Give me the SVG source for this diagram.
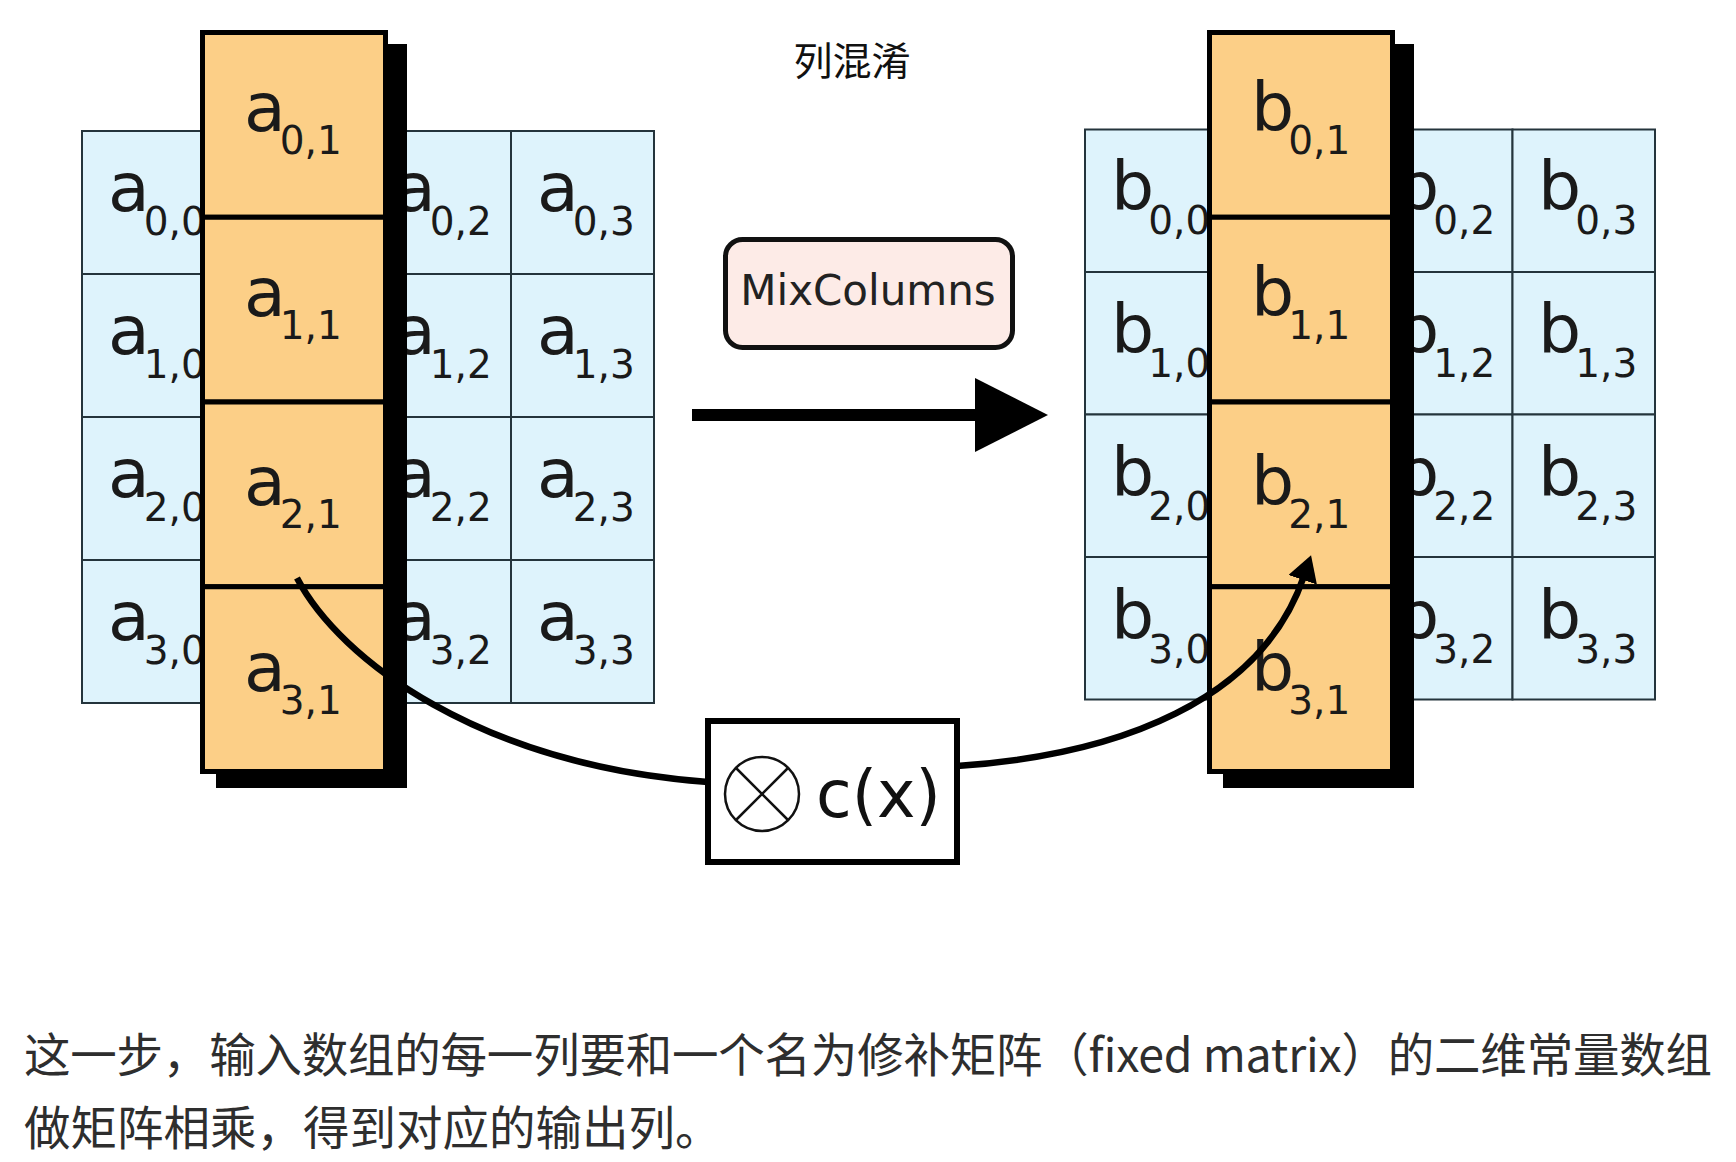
<svg xmlns="http://www.w3.org/2000/svg" width="1736" height="1162" viewBox="0 0 1736 1162">
<style>
.bg{fill:#ffffff}
.cell{fill:#def3fc;stroke:#24343c;stroke-width:2}
.ocell{fill:#fccf87;stroke:#000;stroke-width:5}
.shadow{fill:#000}
.lbl{font-family:"DejaVu Sans","Liberation Sans",sans-serif;font-size:68px;fill:#1a1a1a}
.sub{font-size:39px}
.cap{font-family:"Noto Sans CJK SC","Noto Sans",sans-serif;font-size:46.5px;fill:#2e2e2e}
.conn{fill:none;stroke:#000;stroke-width:6.5}
</style>
<defs>
<marker id="head" viewBox="0 0 26 30" refX="4" refY="15" markerWidth="26" markerHeight="30" markerUnits="userSpaceOnUse" orient="auto"><path d="M0,0 L26,15 L0,30 z" fill="#000"/></marker>
</defs>
<rect class="bg" x="0" y="0" width="1736" height="1162"/>
<g id="title"><text x="852" y="75" text-anchor="middle" style="font-family:'Noto Sans CJK SC',sans-serif;font-size:39px;fill:#111">列混淆</text></g>

<g id="state-a">
<g id="a00"><rect class="cell" x="82" y="131" width="143" height="143"/><text class="lbl" x="108" y="211">a<tspan class="sub" dx="-6" dy="24">0,0</tspan></text></g>
<g id="a10"><rect class="cell" x="82" y="274" width="143" height="143"/><text class="lbl" x="108" y="354">a<tspan class="sub" dx="-6" dy="24">1,0</tspan></text></g>
<g id="a20"><rect class="cell" x="82" y="417" width="143" height="143"/><text class="lbl" x="108" y="497">a<tspan class="sub" dx="-6" dy="24">2,0</tspan></text></g>
<g id="a30"><rect class="cell" x="82" y="560" width="143" height="143"/><text class="lbl" x="108" y="640">a<tspan class="sub" dx="-6" dy="24">3,0</tspan></text></g>
<rect class="cell" x="225" y="131" width="143" height="572"/>
<g id="a02"><rect class="cell" x="368" y="131" width="143" height="143"/><text class="lbl" x="394" y="211">a<tspan class="sub" dx="-6" dy="24">0,2</tspan></text></g>
<g id="a12"><rect class="cell" x="368" y="274" width="143" height="143"/><text class="lbl" x="394" y="354">a<tspan class="sub" dx="-6" dy="24">1,2</tspan></text></g>
<g id="a22"><rect class="cell" x="368" y="417" width="143" height="143"/><text class="lbl" x="394" y="497">a<tspan class="sub" dx="-6" dy="24">2,2</tspan></text></g>
<g id="a32"><rect class="cell" x="368" y="560" width="143" height="143"/><text class="lbl" x="394" y="640">a<tspan class="sub" dx="-6" dy="24">3,2</tspan></text></g>
<g id="a03"><rect class="cell" x="511" y="131" width="143" height="143"/><text class="lbl" x="537" y="211">a<tspan class="sub" dx="-6" dy="24">0,3</tspan></text></g>
<g id="a13"><rect class="cell" x="511" y="274" width="143" height="143"/><text class="lbl" x="537" y="354">a<tspan class="sub" dx="-6" dy="24">1,3</tspan></text></g>
<g id="a23"><rect class="cell" x="511" y="417" width="143" height="143"/><text class="lbl" x="537" y="497">a<tspan class="sub" dx="-6" dy="24">2,3</tspan></text></g>
<g id="a33"><rect class="cell" x="511" y="560" width="143" height="143"/><text class="lbl" x="537" y="640">a<tspan class="sub" dx="-6" dy="24">3,3</tspan></text></g>
<rect class="shadow" x="216" y="44" width="191" height="744"/>
<g id="a01"><rect class="ocell" x="202.5" y="32.5" width="183" height="184.75"/><text class="lbl" x="244" y="131">a<tspan class="sub" dx="-6" dy="23">0,1</tspan></text></g>
<g id="a11"><rect class="ocell" x="202.5" y="217.25" width="183" height="184.75"/><text class="lbl" x="244" y="316">a<tspan class="sub" dx="-6" dy="23">1,1</tspan></text></g>
<g id="a21"><rect class="ocell" x="202.5" y="402" width="183" height="184.75"/><text class="lbl" x="244" y="505">a<tspan class="sub" dx="-6" dy="23">2,1</tspan></text></g>
<g id="a31"><rect class="ocell" x="202.5" y="586.75" width="183" height="184.75"/><text class="lbl" x="244" y="691">a<tspan class="sub" dx="-6" dy="23">3,1</tspan></text></g>
</g>

<g id="state-b">
<g id="b00"><rect class="cell" x="1085" y="129.5" width="142.5" height="142.5"/><text class="lbl" x="1111" y="210">b<tspan class="sub" dx="-6" dy="24">0,0</tspan></text></g>
<g id="b10"><rect class="cell" x="1085" y="272" width="142.5" height="142.5"/><text class="lbl" x="1111" y="353">b<tspan class="sub" dx="-6" dy="24">1,0</tspan></text></g>
<g id="b20"><rect class="cell" x="1085" y="414.5" width="142.5" height="142.5"/><text class="lbl" x="1111" y="496">b<tspan class="sub" dx="-6" dy="24">2,0</tspan></text></g>
<g id="b30"><rect class="cell" x="1085" y="557" width="142.5" height="142.5"/><text class="lbl" x="1111" y="639">b<tspan class="sub" dx="-6" dy="24">3,0</tspan></text></g>
<rect class="cell" x="1227.5" y="129.5" width="142.5" height="570"/>
<g id="b02"><rect class="cell" x="1370" y="129.5" width="142.5" height="142.5"/><text class="lbl" x="1396" y="210">b<tspan class="sub" dx="-6" dy="24">0,2</tspan></text></g>
<g id="b12"><rect class="cell" x="1370" y="272" width="142.5" height="142.5"/><text class="lbl" x="1396" y="353">b<tspan class="sub" dx="-6" dy="24">1,2</tspan></text></g>
<g id="b22"><rect class="cell" x="1370" y="414.5" width="142.5" height="142.5"/><text class="lbl" x="1396" y="496">b<tspan class="sub" dx="-6" dy="24">2,2</tspan></text></g>
<g id="b32"><rect class="cell" x="1370" y="557" width="142.5" height="142.5"/><text class="lbl" x="1396" y="639">b<tspan class="sub" dx="-6" dy="24">3,2</tspan></text></g>
<g id="b03"><rect class="cell" x="1512.5" y="129.5" width="142.5" height="142.5"/><text class="lbl" x="1538" y="210">b<tspan class="sub" dx="-6" dy="24">0,3</tspan></text></g>
<g id="b13"><rect class="cell" x="1512.5" y="272" width="142.5" height="142.5"/><text class="lbl" x="1538" y="353">b<tspan class="sub" dx="-6" dy="24">1,3</tspan></text></g>
<g id="b23"><rect class="cell" x="1512.5" y="414.5" width="142.5" height="142.5"/><text class="lbl" x="1538" y="496">b<tspan class="sub" dx="-6" dy="24">2,3</tspan></text></g>
<g id="b33"><rect class="cell" x="1512.5" y="557" width="142.5" height="142.5"/><text class="lbl" x="1538" y="639">b<tspan class="sub" dx="-6" dy="24">3,3</tspan></text></g>
<rect class="shadow" x="1223" y="44" width="191" height="744"/>
<g id="b01"><rect class="ocell" x="1209.5" y="32.5" width="183" height="184.75"/><text class="lbl" x="1251" y="131">b<tspan class="sub" dx="-6" dy="23">0,1</tspan></text></g>
<g id="b11"><rect class="ocell" x="1209.5" y="217.25" width="183" height="184.75"/><text class="lbl" x="1251" y="316">b<tspan class="sub" dx="-6" dy="23">1,1</tspan></text></g>
<g id="b21"><rect class="ocell" x="1209.5" y="402" width="183" height="184.75"/><text class="lbl" x="1251" y="505">b<tspan class="sub" dx="-6" dy="23">2,1</tspan></text></g>
<g id="b31"><rect class="ocell" x="1209.5" y="586.75" width="183" height="184.75"/><text class="lbl" x="1251" y="691">b<tspan class="sub" dx="-6" dy="23">3,1</tspan></text></g>
</g>

<g id="mixcolumns">
<rect x="725.5" y="239.5" width="287" height="108" rx="17" fill="#fdebe7" stroke="#111" stroke-width="5"/>
<text x="868" y="305" text-anchor="middle" style="font-family:'DejaVu Sans',sans-serif;font-size:42px;fill:#222">MixColumns</text>
</g>

<g id="cx">
<rect x="708" y="721" width="249" height="141" fill="#fff" stroke="#000" stroke-width="6"/>
<circle cx="762" cy="794" r="37" fill="none" stroke="#111" stroke-width="2.5"/>
<path d="M736,768 L788,820 M736,820 L788,768" stroke="#111" stroke-width="2.5"/>
<text x="816" y="817" style="font-family:'DejaVu Sans',sans-serif;font-size:65px;fill:#111">c(x)</text>
</g>

<g id="connectors">
<line x1="692" y1="415" x2="985" y2="415" stroke="#000" stroke-width="12"/>
<polygon points="975,378 1048,415 975,452" fill="#000"/>
<path class="conn" d="M297,578 C340,660 480,765 708,782"/>
<path class="conn" d="M957,766 C1120,755 1262,700 1304,576" marker-end="url(#head)"/>
</g>

<g id="caption">
<text class="cap" x="24" y="1072" textLength="1688" lengthAdjust="spacing">这一步，输入数组的每一列要和一个名为修补矩阵（fixed matrix）的二维常量数组</text>
<text class="cap" x="24" y="1145">做矩阵相乘，得到对应的输出列。</text>
</g>
</svg>
